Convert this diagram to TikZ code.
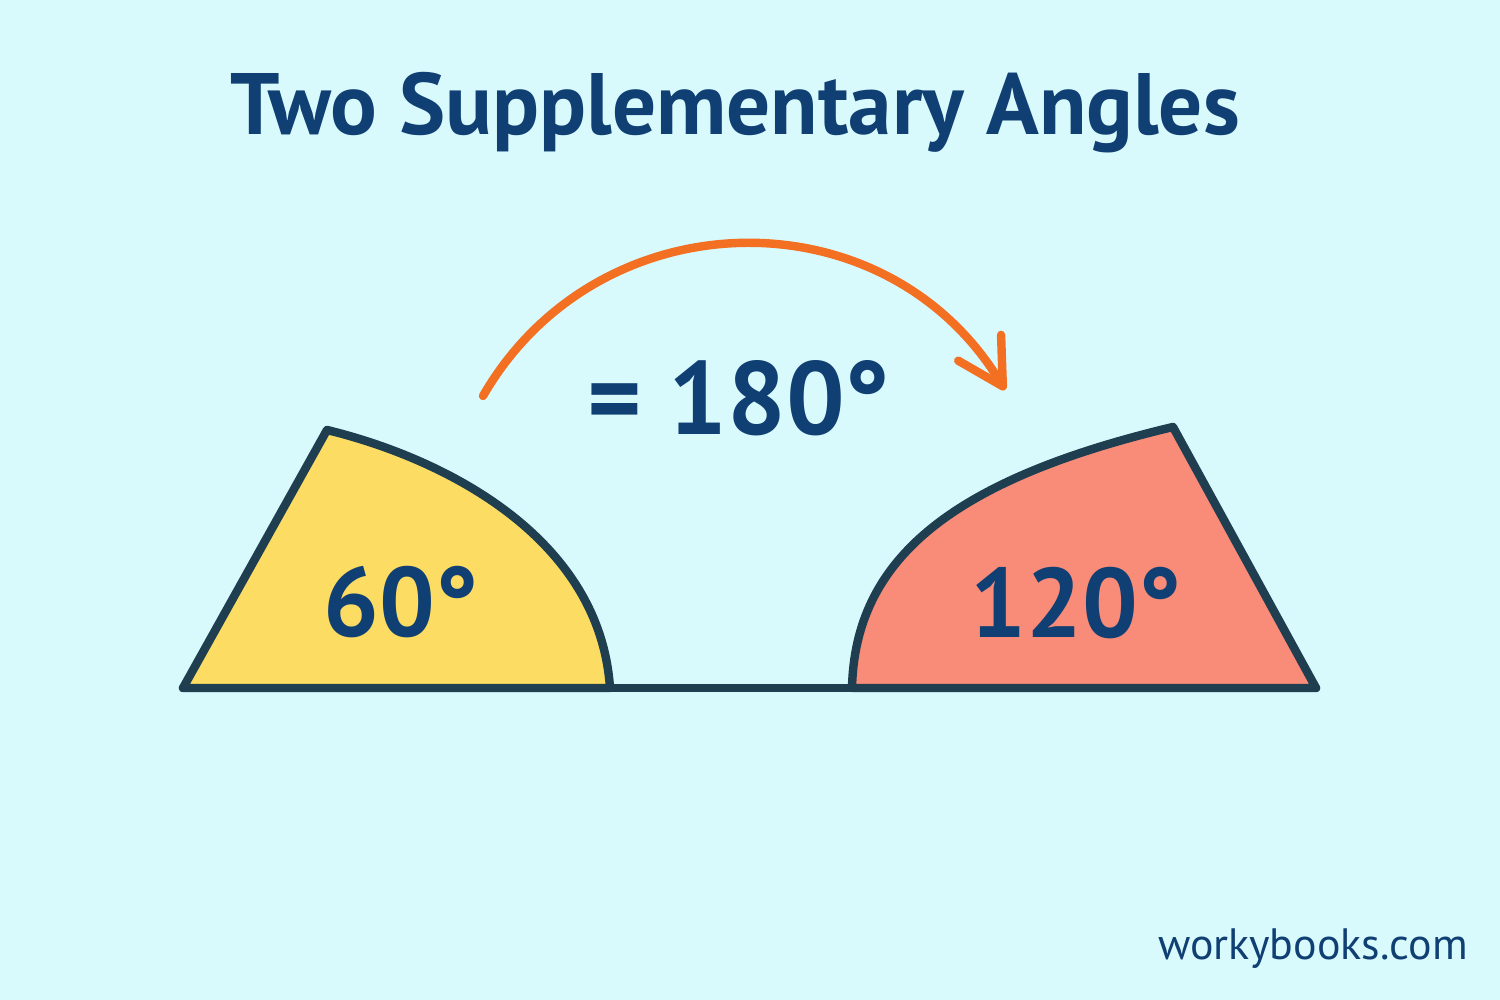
\documentclass[tikz,border=0pt]{standalone}
\usepackage{fontspec}
\setmainfont{PT Sans}
\usepackage{xcolor}
\usepackage{tikz}
\usetikzlibrary{arrows.meta}

\definecolor{bgcyan}{HTML}{D9FAFC}
\definecolor{navy}{HTML}{0F3F73}
\definecolor{edgeblue}{HTML}{1F3E50}
\definecolor{sunyellow}{HTML}{FCDC63}
\definecolor{salmon}{HTML}{F98B79}
\definecolor{arroworange}{HTML}{F36F22}

\begin{document}
\begin{tikzpicture}[
  anglepiece/.style={draw=edgeblue, line width=2.4pt, line join=round},
  bignum/.style={anchor=base, text=navy, font=\bfseries\fontsize{28}{32}\selectfont}
]

\fill[bgcyan](0,0) rectangle (15,10);
\useasboundingbox (0,0) rectangle (15,10);

% corners of the two angles
\coordinate (yl) at (1.83,3.12);
\coordinate (ytop) at (3.27,5.70);
\coordinate (yr) at (6.10,3.12);
\coordinate (rl) at (8.52,3.12);
\coordinate (rtop) at (11.73,5.73);
\coordinate (rr) at (13.16,3.12);

\filldraw[anglepiece, fill=sunyellow](yl)--(ytop) .. controls (4.50,5.40) and (6.00,4.60) .. (yr)--cycle;
\filldraw[anglepiece, fill=salmon](rl) .. controls (8.55,4.40) and (9.50,5.20) .. (rtop)--(rr)--cycle;
\draw[edgeblue, line width=2.4pt, line cap=round](yl)--(rr);

% the arrow
\coordinate (arrS) at (4.83,6.04);
\coordinate (arrE) at (10.05,6.10);
\draw[arroworange, line width=2.4pt, line cap=round, -{Straight Barb[length=4.5mm,width=5mm,round]}]
  (arrS) to[out=60, in=121, looseness=1.13] (arrE);

\node[anchor=base, text=navy, font=\bfseries\fontsize{24.8}{28}\selectfont] (title) at (7.35,8.65) {Two Supplementary Angles};
\node[bignum, font=\bfseries\fontsize{29.5}{33}\selectfont] (sum) at (7.39,5.65) {=\ 180°};
\node[bignum] (sixty) at (4.01,3.63) {60°};
\node[bignum] (onetwenty) at (10.76,3.62) {120°};
\node[anchor=base, text=navy, font=\fontsize{12.5}{14}\selectfont] (site) at (13.13,0.40) {workybooks.com};

\end{tikzpicture}
\end{document}
